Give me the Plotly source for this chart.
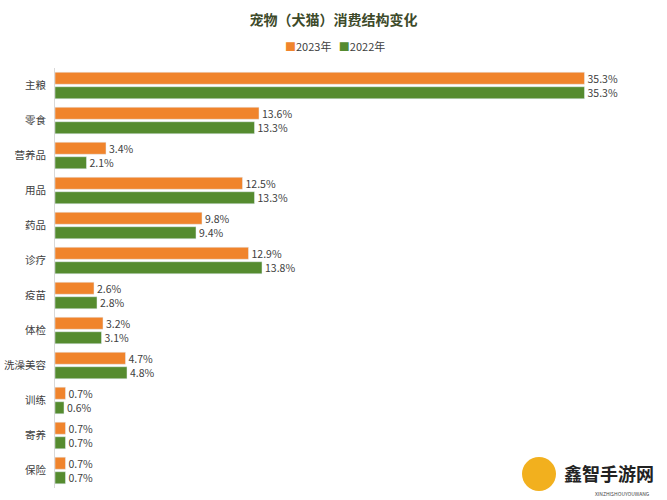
import plotly.graph_objects as go

categories = ["主粮", "零食", "营养品", "用品", "药品", "诊疗", "疫苗", "体检", "洗澡美容", "训练", "寄养", "保险"]
values_2023 = [35.3, 13.6, 3.4, 12.5, 9.8, 12.9, 2.6, 3.2, 4.7, 0.7, 0.7, 0.7]
values_2022 = [35.3, 13.3, 2.1, 13.3, 9.4, 13.8, 2.8, 3.1, 4.8, 0.6, 0.7, 0.7]
series_names = ["2023年", "2022年"]
series_colors = ["#F0842C", "#558B2F"]

font = "Noto Sans CJK SC"
fig = go.Figure()
for name, vals, col in zip(series_names, [values_2023, values_2022], series_colors):
    fig.add_trace(go.Bar(
        y=categories, x=vals, name=name, orientation="h",
        marker_color=col,
        text=[f"{v}%" for v in vals], textposition="outside",
        constraintext="none",
        textfont=dict(size=10.5, color="#404040"), cliponaxis=False,
    ))

fig.update_layout(
    width=667, height=500,
    margin=dict(l=55, r=42, t=68, b=12, autoexpand=False),
    paper_bgcolor="white", plot_bgcolor="white",
    font=dict(family=font, color="#404040", size=11),
    barmode="group", bargap=0.17, bargroupgap=0.17,
    title=dict(text="<b>宠物（犬猫）消费结构变化</b>", x=0.5, xanchor="center",
               yref="container", y=0.96, yanchor="middle",
               font=dict(size=14, color="#3D4A2A")),
    showlegend=False,
    xaxis=dict(range=[0, 38], showgrid=False, showticklabels=False, zeroline=False,
               showline=False, fixedrange=True),
    yaxis=dict(autorange="reversed", showline=True, linecolor="#D9D9D9", linewidth=1,
               ticks="", ticklen=0, tickfont=dict(size=10.5, color="#404040"),
               ticklabelstandoff=6, automargin=False, fixedrange=True),
)

legend_text = "&nbsp;&nbsp;&nbsp;".join(
    f"<span style='color:{c}'>■</span>{n}" for n, c in zip(series_names, series_colors))
fig.add_annotation(text=legend_text, xref="paper", yref="paper", x=(335 - 55) / 570,
                   y=(488 - 46) / 420, xanchor="center", yanchor="middle", showarrow=False,
                   font=dict(size=11, color="#404040"))

# watermark
fig.add_shape(type="circle", xref="paper", yref="paper",
              x0=(522 - 55) / 570, x1=(556 - 55) / 570,
              y0=(488 - 491) / 420, y1=(488 - 457) / 420,
              fillcolor="#F2B01E", line=dict(width=0))
fig.add_annotation(text="<b>鑫智手游网</b>", xref="paper", yref="paper", x=(656 - 55) / 570,
                   y=(488 - 473) / 420, xanchor="right", yanchor="middle", showarrow=False,
                   font=dict(size=18, color="#222222", family="Noto Sans CJK SC"))
fig.add_annotation(text="XINZHISHOUYOUWANG", xref="paper", yref="paper", x=(652 - 55) / 570,
                   y=(488 - 493) / 420, xanchor="right", yanchor="middle", showarrow=False,
                   font=dict(size=5, color="#444444"))
fig.write_html("out.html", config={"displayModeBar": False},
               post_script="document.body.style.margin='0';")
